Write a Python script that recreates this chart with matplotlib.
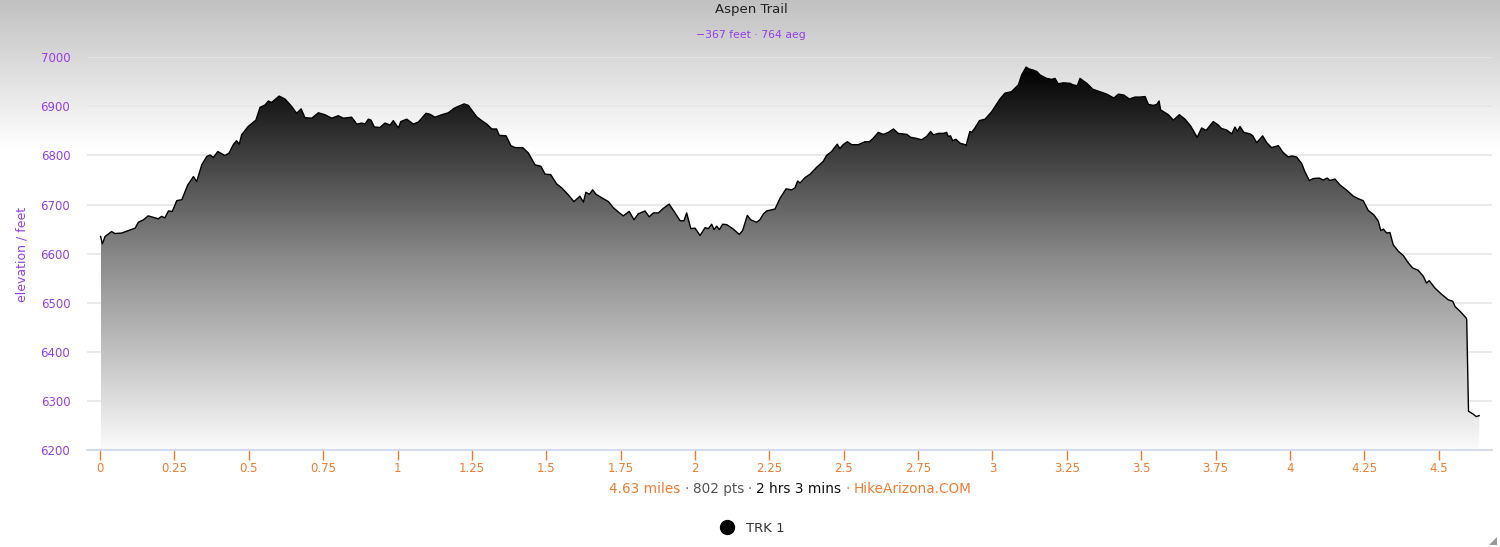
import numpy as np
import matplotlib.pyplot as plt
from matplotlib.colors import LinearSegmentedColormap
from matplotlib.lines import Line2D
from matplotlib.patches import Polygon
from matplotlib.ticker import FuncFormatter

# elevation profile (miles, feet)
miles = [0.002, 0.008, 0.017, 0.039, 0.050, 0.073, 0.118, 0.129, 0.146, 0.162,
         0.179, 0.196, 0.207, 0.218, 0.230, 0.243, 0.258, 0.275, 0.295, 0.314,
         0.325, 0.342, 0.359, 0.370, 0.381, 0.396, 0.420, 0.434, 0.448, 0.459,
         0.468, 0.476, 0.498, 0.524, 0.538, 0.555, 0.566, 0.577, 0.602, 0.622,
         0.644, 0.661, 0.676, 0.689, 0.712, 0.734, 0.756, 0.779, 0.801, 0.818,
         0.846, 0.863, 0.880, 0.891, 0.902, 0.911, 0.922, 0.941, 0.958, 0.975,
         0.986, 1.003, 1.011, 1.031, 1.053, 1.070, 1.096, 1.109, 1.126, 1.149,
         1.171, 1.190, 1.204, 1.224, 1.238, 1.249, 1.266, 1.283, 1.300, 1.317,
         1.333, 1.342, 1.365, 1.381, 1.395, 1.421, 1.440, 1.462, 1.482, 1.496,
         1.515, 1.535, 1.552, 1.574, 1.593, 1.613, 1.625, 1.633, 1.645, 1.656,
         1.667, 1.686, 1.709, 1.725, 1.742, 1.759, 1.779, 1.795, 1.809, 1.832,
         1.846, 1.860, 1.877, 1.893, 1.913, 1.933, 1.950, 1.963, 1.972, 1.986,
         2.000, 2.017, 2.034, 2.045, 2.056, 2.064, 2.073, 2.082, 2.093, 2.107,
         2.129, 2.149, 2.160, 2.176, 2.187, 2.207, 2.218, 2.230, 2.241, 2.269,
         2.286, 2.306, 2.325, 2.336, 2.345, 2.353, 2.370, 2.387, 2.409, 2.431,
         2.442, 2.459, 2.478, 2.487, 2.498, 2.512, 2.527, 2.549, 2.571, 2.586,
         2.599, 2.616, 2.633, 2.650, 2.667, 2.683, 2.712, 2.725, 2.743, 2.762,
         2.779, 2.792, 2.801, 2.818, 2.835, 2.846, 2.851, 2.859, 2.866, 2.877,
         2.891, 2.908, 2.911, 2.924, 2.930, 2.941, 2.956, 2.975, 2.997, 3.025,
         3.042, 3.064, 3.087, 3.098, 3.113, 3.124, 3.137, 3.149, 3.160, 3.182,
         3.199, 3.210, 3.221, 3.238, 3.261, 3.270, 3.285, 3.294, 3.317, 3.337,
         3.361, 3.384, 3.408, 3.423, 3.442, 3.460, 3.479, 3.496, 3.513, 3.524,
         3.541, 3.552, 3.560, 3.565, 3.591, 3.608, 3.628, 3.647, 3.666, 3.688,
         3.703, 3.718, 3.742, 3.759, 3.770, 3.787, 3.804, 3.815, 3.823, 3.832,
         3.845, 3.866, 3.875, 3.888, 3.908, 3.922, 3.938, 3.961, 3.977, 3.994,
         4.006, 4.022, 4.039, 4.050, 4.065, 4.078, 4.098, 4.112, 4.125, 4.134,
         4.151, 4.168, 4.191, 4.213, 4.233, 4.246, 4.263, 4.282, 4.297, 4.305,
         4.314, 4.325, 4.336, 4.347, 4.364, 4.381, 4.398, 4.412, 4.431, 4.448,
         4.459, 4.468, 4.487, 4.510, 4.532, 4.547, 4.555, 4.571, 4.592, 4.594,
         4.600, 4.616, 4.626, 4.636]
feet = [6635, 6620, 6635, 6645, 6641, 6642, 6652, 6664, 6669, 6677,
        6674, 6671, 6676, 6673, 6687, 6686, 6708, 6710, 6740, 6757,
        6747, 6781, 6798, 6801, 6796, 6808, 6800, 6805, 6822, 6830,
        6823, 6842, 6859, 6872, 6898, 6903, 6911, 6908, 6921, 6915,
        6900, 6886, 6895, 6877, 6876, 6887, 6883, 6876, 6881, 6876,
        6878, 6864, 6866, 6864, 6874, 6872, 6858, 6857, 6866, 6862,
        6871, 6856, 6869, 6874, 6864, 6868, 6886, 6884, 6878, 6883,
        6887, 6896, 6900, 6905, 6902, 6893, 6879, 6871, 6864, 6854,
        6854, 6841, 6840, 6820, 6816, 6816, 6805, 6781, 6778, 6762,
        6761, 6742, 6734, 6720, 6706, 6717, 6705, 6725, 6721, 6730,
        6721, 6714, 6706, 6694, 6685, 6677, 6686, 6669, 6681, 6687,
        6675, 6683, 6683, 6692, 6701, 6683, 6667, 6667, 6683, 6651,
        6652, 6637, 6653, 6651, 6660, 6649, 6656, 6649, 6660, 6659,
        6650, 6639, 6647, 6678, 6669, 6664, 6669, 6681, 6687, 6691,
        6713, 6732, 6730, 6734, 6748, 6744, 6755, 6762, 6776, 6788,
        6800, 6808, 6823, 6814, 6822, 6828, 6822, 6822, 6828, 6828,
        6835, 6847, 6843, 6847, 6854, 6845, 6843, 6837, 6835, 6832,
        6839, 6849, 6842, 6845, 6845, 6847, 6839, 6840, 6830, 6833,
        6825, 6822, 6820, 6849, 6847, 6856, 6871, 6874, 6889, 6915,
        6927, 6930, 6944, 6964, 6980, 6976, 6974, 6971, 6964, 6957,
        6955, 6957, 6946, 6948, 6947, 6944, 6942, 6957, 6947, 6935,
        6930, 6925, 6917, 6925, 6923, 6915, 6919, 6919, 6920, 6904,
        6902, 6904, 6911, 6893, 6883, 6872, 6883, 6874, 6860, 6837,
        6856, 6851, 6869, 6862, 6855, 6852, 6844, 6858, 6849, 6859,
        6847, 6844, 6840, 6826, 6840, 6826, 6816, 6820, 6806, 6797,
        6799, 6797, 6784, 6767, 6749, 6753, 6754, 6750, 6754, 6749,
        6752, 6740, 6729, 6717, 6711, 6708, 6688, 6679, 6666, 6647,
        6650, 6642, 6643, 6618, 6605, 6596, 6581, 6571, 6566, 6554,
        6540, 6545, 6530, 6517, 6506, 6503, 6492, 6483, 6469, 6466,
        6279, 6273, 6268, 6270]

x_ticks = [0, 0.25, 0.5, 0.75, 1, 1.25, 1.5, 1.75, 2, 2.25, 2.5, 2.75,
           3, 3.25, 3.5, 3.75, 4, 4.25, 4.5]
y_ticks = [6200, 6300, 6400, 6500, 6600, 6700, 6800, 6900, 7000]

title = 'Aspen Trail'
subtitle = '\u2212367 feet \u00b7 764 aeg'
footer = [('4.63 miles', '#f07c30'), ('\u00b7', '#666666'), ('802 pts', '#555555'),
          ('\u00b7', '#666666'), ('2 hrs 3 mins', '#111111'), ('\u00b7', '#f07c30'),
          ('HikeArizona.COM', '#f07c30')]
series_name = 'TRK 1'

purple = '#9340e8'
orange = '#f07c30'

W, H = 1500, 547
fig = plt.figure(figsize=(W / 100, H / 100), dpi=100)

# grey-to-white background at the top of the figure
bg = fig.add_axes([0, 0, 1, 1], zorder=-10)
bg.axis('off')
rows = np.arange(H)
shade = np.clip(192 + 63 * rows / 150, 0, 255) / 255
bg.imshow(shade[:, None], cmap='gray', vmin=0, vmax=1, aspect='auto',
          extent=[0, 1, 0, 1])
bg.set_xlim(0, 1)
bg.set_ylim(0, 1)

ax = fig.add_axes([87 / W, 1 - 450 / H, (1492 - 87) / W, (450 - 57.3) / H])
ax.patch.set_alpha(0)

# gradient fill under the profile
poly = Polygon(np.column_stack([np.r_[miles[0], miles, miles[-1]],
                                np.r_[6200, feet, 6200]]),
               closed=True, facecolor='none', edgecolor='none')
ax.add_patch(poly)
cmap = LinearSegmentedColormap.from_list(
    'fill', [(0, '#000000'), (0.5, '#8a8a8a'), (1, '#fbfbfb')])
img = ax.imshow(np.linspace(0, 1, 256)[:, None], cmap=cmap, aspect='auto',
                extent=[miles[0], miles[-1], 6200, max(feet)], origin='upper',
                zorder=2)
img.set_clip_path(poly)
ax.plot(miles, feet, color='black', lw=1.0, zorder=3)

ax.set_xlim(-0.0437, 4.679)
ax.set_ylim(6200, 7000)
ax.set_xticks(x_ticks)
ax.set_yticks(y_ticks)
ax.xaxis.set_major_formatter(FuncFormatter(lambda v, p: '%g' % v))
ax.yaxis.grid(True, color='#e6e6e6', lw=1.2)
ax.set_axisbelow(True)
for s in ['top', 'right', 'left']:
    ax.spines[s].set_visible(False)
ax.spines['bottom'].set_color('#ccd6eb')
ax.spines['bottom'].set_linewidth(1.2)
ax.tick_params(axis='x', direction='out', length=7.5, width=1, color=orange,
               labelcolor=orange, labelsize=8.5, pad=1.5)
ax.tick_params(axis='y', length=0, pad=12, labelcolor=purple, labelsize=8.5)

fig.text(22 / W, 1 - 254 / H, 'elevation / feet', rotation=90, color=purple,
         fontsize=9, ha='center', va='center')
fig.text(751 / W, 1 - 13.3 / H, title, color='#222222', fontsize=9.5,
         ha='center', va='baseline')
fig.text(751 / W, 1 - 38.3 / H, subtitle, color=purple, fontsize=7.8,
         ha='center', va='baseline')

# footer line, pieces chained left to right
last = fig.text(609 / W, 1 - 493.3 / H, footer[0][0], color=footer[0][1],
                fontsize=9.8, ha='left', va='baseline')
for txt, col in footer[1:]:
    last = fig.add_artist(plt.Annotation(txt, xy=(1, 0), xycoords=last,
                                         xytext=(2.8, 0), textcoords='offset points',
                                         color=col, fontsize=9.8, ha='left',
                                         va='bottom'))

handle = Line2D([], [], marker='o', color='black', linestyle='none', markersize=10)
fig.legend(handles=[handle], labels=[series_name], loc='center',
           bbox_to_anchor=(749 / W, 1 - 528 / H), frameon=False,
           handletextpad=0.4, fontsize=9.5, labelcolor='#333333')

# resize grip in the corner
fig.add_artist(Polygon([(1497 / W, 1 - 537 / H), (1497 / W, 1 - 545 / H),
                        (1489 / W, 1 - 545 / H)], closed=True,
                       transform=fig.transFigure, facecolor='#999999',
                       edgecolor='none'))

fig.savefig('out.png', dpi=100)
